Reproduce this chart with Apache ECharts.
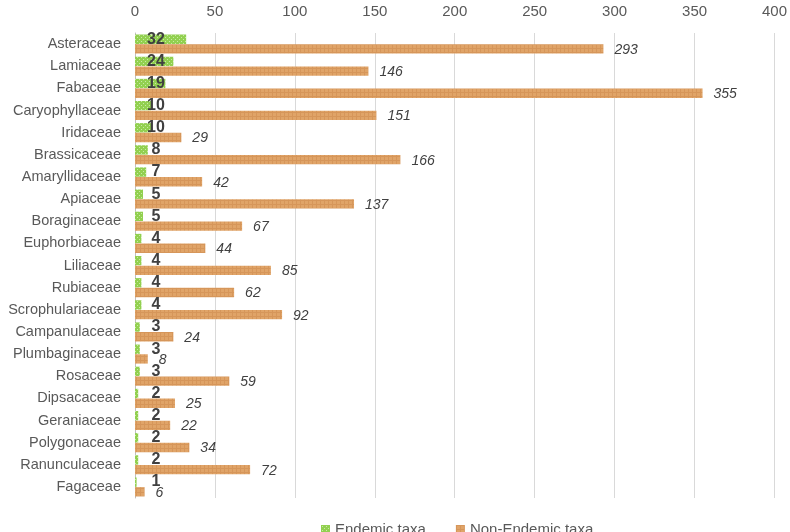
<!DOCTYPE html>
<html>
<head>
<meta charset="utf-8">
<script src="https://cdn.jsdelivr.net/npm/echarts@6/dist/echarts.min.js"></script>
<style>
  html, body { margin: 0; padding: 0; background: #fff; }
  #chart { width: 790px; height: 532px; }
</style>
</head>
<body>
<div id="chart"></div>
<script>
const families = [
  'Asteraceae', 'Lamiaceae', 'Fabaceae', 'Caryophyllaceae', 'Iridaceae',
  'Brassicaceae', 'Amaryllidaceae', 'Apiaceae', 'Boraginaceae', 'Euphorbiaceae',
  'Liliaceae', 'Rubiaceae', 'Scrophulariaceae', 'Campanulaceae', 'Plumbaginaceae',
  'Rosaceae', 'Dipsacaceae', 'Geraniaceae', 'Polygonaceae', 'Ranunculaceae', 'Fagaceae'
];
const endemic = [32, 24, 19, 10, 10, 8, 7, 5, 5, 4, 4, 4, 4, 3, 3, 3, 2, 2, 2, 2, 1];
const nonEndemic = [293, 146, 355, 151, 29, 166, 42, 137, 67, 44, 85, 62, 92, 24, 8, 59, 25, 22, 34, 72, 6];

// small textures like the Excel pattern fills
function makePattern(base, dot, dotted) {
  const c = document.createElement('canvas');
  c.width = 4; c.height = 4;
  const ctx = c.getContext('2d');
  ctx.fillStyle = base;
  ctx.fillRect(0, 0, 4, 4);
  ctx.fillStyle = dot;
  if (dotted) {
    ctx.fillRect(1, 1, 1, 1);
    ctx.fillRect(3, 3, 1, 1);
  } else {
    ctx.fillRect(0, 0, 4, 1);
    ctx.fillRect(0, 0, 1, 4);
  }
  return c;
}
const greenFill = { image: makePattern('#92d050', '#c8eaa6', true), repeat: 'repeat' };
const orangeFill = { image: makePattern('#e0a468', '#d6965a', false), repeat: 'repeat' };

const chart = echarts.init(document.getElementById('chart'));

chart.setOption({
  animation: false,
  textStyle: { fontFamily: 'Liberation Sans' },
  grid: { left: 135, right: 13, top: 33, bottom: 34 },
  legend: {
    top: 517,
    left: 316,
    itemWidth: 9,
    itemHeight: 9,
    itemGap: 30,
    icon: 'rect',
    textStyle: { color: '#595959', fontSize: 15 },
    data: ['Endemic taxa', 'Non-Endemic taxa']
  },
  xAxis: {
    type: 'value',
    position: 'top',
    min: 0,
    max: 400,
    interval: 50,
    axisLine: { show: false },
    axisTick: { show: false },
    axisLabel: { color: '#595959', fontSize: 15, margin: 14 },
    splitLine: { lineStyle: { color: '#d9d9d9' } }
  },
  yAxis: {
    type: 'category',
    inverse: true,
    data: families,
    axisLine: { lineStyle: { color: '#bfbfbf' } },
    axisTick: { show: false },
    axisLabel: { color: '#595959', fontSize: 14.5, margin: 14 }
  },
  series: [
    {
      name: 'Endemic taxa',
      type: 'bar',
      data: endemic,
      barGap: '4%',
      barCategoryGap: '14%',
      itemStyle: { color: greenFill },
      label: {
        show: true,
        position: [21, '50%'],
        align: 'center',
        verticalAlign: 'middle',
        color: '#404040',
        fontWeight: 'bold',
        fontSize: 16
      }
    },
    {
      name: 'Non-Endemic taxa',
      type: 'bar',
      data: nonEndemic,
      itemStyle: { color: orangeFill },
      label: {
        show: true,
        position: 'right',
        distance: 11,
        color: '#404040',
        fontStyle: 'italic',
        fontSize: 14,
        offset: [0, 1]
      }
    }
  ]
});
</script>
</body>
</html>
